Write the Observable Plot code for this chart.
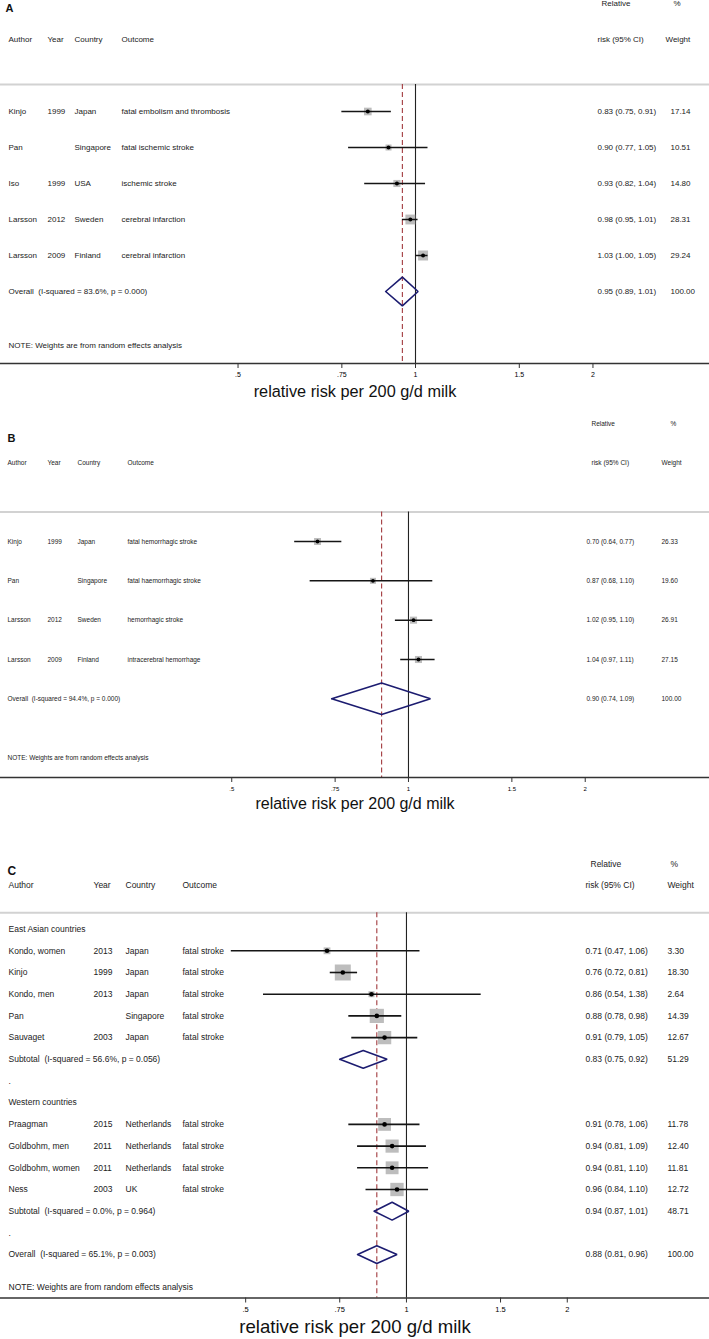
<!DOCTYPE html>
<html>
<head>
<meta charset="utf-8">
<script src="https://cdn.jsdelivr.net/npm/d3@7"></script>
<script src="https://cdn.jsdelivr.net/npm/@observablehq/plot@0.6"></script>
<style>
  body { margin: 0; background: #fff; width: 709px; }
  svg { display: block; white-space: pre; }
</style>
</head>
<body>
<div id="chart"></div>
<script>
// ---------- shared ----------
const tickValues = [0.5, 0.75, 1, 1.5, 2];
const tickLabels = [".5", ".75", "1", "1.5", "2"];
const headerTop = ["Relative", "%"];
const headerCols = ["Author", "Year", "Country", "Outcome", "risk (95% CI)", "Weight"];
const axisTitle = "relative risk per 200 g/d milk";
const noteText = "NOTE: Weights are from random effects analysis";

// ---------- panel A ----------
const A_author  = ["Kinjo", "Pan", "Iso", "Larsson", "Larsson"];
const A_year    = ["1999", "", "1999", "2012", "2009"];
const A_country = ["Japan", "Singapore", "USA", "Sweden", "Finland"];
const A_outcome = ["fatal embolism and thrombosis", "fatal ischemic stroke", "ischemic stroke", "cerebral infarction", "cerebral infarction"];
const A_rr = [0.83, 0.90, 0.93, 0.98, 1.03];
const A_lo = [0.75, 0.77, 0.82, 0.95, 1.00];
const A_hi = [0.91, 1.05, 1.04, 1.01, 1.05];
const A_w  = [17.14, 10.51, 14.80, 28.31, 29.24];
const A_sumLabel = ["Overall  (I-squared = 83.6%, p = 0.000)"];
const A_sumRR = [0.95], A_sumLo = [0.89], A_sumHi = [1.01], A_sumW = [100.00];

// ---------- panel B ----------
const B_author  = ["Kinjo", "Pan", "Larsson", "Larsson"];
const B_year    = ["1999", "", "2012", "2009"];
const B_country = ["Japan", "Singapore", "Sweden", "Finland"];
const B_outcome = ["fatal hemorrhagic stroke", "fatal haemorrhagic stroke", "hemorrhagic stroke", "intracerebral hemorrhage"];
const B_rr = [0.70, 0.87, 1.02, 1.04];
const B_lo = [0.64, 0.68, 0.95, 0.97];
const B_hi = [0.77, 1.10, 1.10, 1.11];
const B_w  = [26.33, 19.60, 26.91, 27.15];
const B_sumLabel = ["Overall  (I-squared = 94.4%, p = 0.000)"];
const B_sumRR = [0.90], B_sumLo = [0.74], B_sumHi = [1.09], B_sumW = [100.00];

// ---------- panel C ----------
const C_groups  = ["East Asian countries", "Western countries"];
const C_group   = [0, 0, 0, 0, 0, 1, 1, 1, 1];
const C_author  = ["Kondo, women", "Kinjo", "Kondo, men", "Pan", "Sauvaget", "Praagman", "Goldbohm, men", "Goldbohm, women", "Ness"];
const C_year    = ["2013", "1999", "2013", "", "2003", "2015", "2011", "2011", "2003"];
const C_country = ["Japan", "Japan", "Japan", "Singapore", "Japan", "Netherlands", "Netherlands", "Netherlands", "UK"];
const C_outcome = ["fatal stroke", "fatal stroke", "fatal stroke", "fatal stroke", "fatal stroke", "fatal stroke", "fatal stroke", "fatal stroke", "fatal stroke"];
const C_rr = [0.71, 0.76, 0.86, 0.88, 0.91, 0.91, 0.94, 0.94, 0.96];
const C_lo = [0.47, 0.72, 0.54, 0.78, 0.79, 0.78, 0.81, 0.81, 0.84];
const C_hi = [1.06, 0.81, 1.38, 0.98, 1.05, 1.06, 1.09, 1.10, 1.10];
const C_w  = [3.30, 18.30, 2.64, 14.39, 12.67, 11.78, 12.40, 11.81, 12.72];
const C_sumLabel = ["Subtotal  (I-squared = 56.6%, p = 0.056)", "Subtotal  (I-squared = 0.0%, p = 0.964)", "Overall  (I-squared = 65.1%, p = 0.003)"];
const C_sumRR = [0.83, 0.94, 0.88];
const C_sumLo = [0.75, 0.87, 0.81];
const C_sumHi = [0.92, 1.01, 0.96];
const C_sumW  = [51.29, 48.71, 100.00];

// ---------- build row lists ----------
function study(author, year, country, outcome, rr, lo, hi, w) {
  return {type: "study", author, year, country, outcome, rr, lo, hi, w};
}
function summary(label, rr, lo, hi, w) {
  return {type: "summary", author: label, rr, lo, hi, w};
}
function label(text) { return {type: "label", author: text}; }
function slotRows(list, start) {
  list.forEach((d, i) => d.slot = start + i);
  return list;
}

const rowsA = slotRows([
  ...A_author.map((a, i) => study(a, A_year[i], A_country[i], A_outcome[i], A_rr[i], A_lo[i], A_hi[i], A_w[i])),
  ...A_sumLabel.map((l, i) => summary(l, A_sumRR[i], A_sumLo[i], A_sumHi[i], A_sumW[i]))
], 3);
const rowsB = slotRows([
  ...B_author.map((a, i) => study(a, B_year[i], B_country[i], B_outcome[i], B_rr[i], B_lo[i], B_hi[i], B_w[i])),
  ...B_sumLabel.map((l, i) => summary(l, B_sumRR[i], B_sumLo[i], B_sumHi[i], B_sumW[i]))
], 3);
const rowsCList = [];
C_groups.forEach((g, gi) => {
  rowsCList.push(label(g));
  C_author.forEach((a, i) => {
    if (C_group[i] === gi) rowsCList.push(study(a, C_year[i], C_country[i], C_outcome[i], C_rr[i], C_lo[i], C_hi[i], C_w[i]));
  });
  rowsCList.push(summary(C_sumLabel[gi], C_sumRR[gi], C_sumLo[gi], C_sumHi[gi], C_sumW[gi]));
  rowsCList.push(label("."));
});
rowsCList.push(summary(C_sumLabel[2], C_sumRR[2], C_sumLo[2], C_sumHi[2], C_sumW[2]));
const rowsC = slotRows(rowsCList, 3);

const FONT = "'Liberation Sans', Arial, Helvetica, sans-serif";

function panel(cfg) {
  const {rows, height, marginTop, marginBottom, domain, fs, cols, k, dh, tickFs, titleFs, titleDy, letter, letterFs, letterDx, letterDy, ciW, ptR} = cfg;
  const N = rows[rows.length - 1].slot + 2;
  const noteSlot = N - 0.5;
  const sep = 2.25;
  const overall = rows[rows.length - 1];
  const studies = rows.filter(d => d.type === "study");
  const sums = rows.filter(d => d.type === "summary");
  const withVals = rows.filter(d => d.type !== "label");
  const diamonds = sums.flatMap((d, j) => [
    {x: d.lo, y: d.slot, id: j}, {x: d.rr, y: d.slot - dh, id: j},
    {x: d.hi, y: d.slot, id: j}, {x: d.rr, y: d.slot + dh, id: j},
    {x: d.lo, y: d.slot, id: j}
  ]);
  const txt = (data, opts) => Plot.text(data, {frameAnchor: "left", textAnchor: "start", lineAnchor: "middle", fontSize: fs, fill: "#222", ...opts});
  const headerData = headerCols.map((h, i) => ({h, i}));
  const colKeys = ["author", "year", "country", "outcome", "riskH", "wH"];
  return Plot.plot({
    width: 709, height, marginLeft: 0, marginRight: 0, marginTop, marginBottom,
    style: {fontFamily: FONT, background: "#fff", overflow: "visible"},
    x: {type: "log", domain},
    y: {domain: [0, N], reverse: true, axis: null},
    r: {type: "sqrt", domain: [0, 1], range: [0, k / Math.sqrt(Math.PI)], clamp: false},
    marks: [
      Plot.ruleY([sep], {stroke: "#d2d2d2", strokeWidth: 2}),
      Plot.ruleX([1], {y1: sep, y2: N, stroke: "#222", strokeWidth: 1.1}),
      Plot.ruleX([overall.rr], {y1: sep, y2: N, stroke: "#a23a3e", strokeWidth: 1.1, strokeDasharray: "5,3"}),
      Plot.dot(studies, {x: "rr", y: "slot", symbol: "square", r: "w", fill: "#bdbdbd", stroke: null}),
      Plot.ruleY(studies, {x1: "lo", x2: "hi", y: "slot", stroke: "#151515", strokeWidth: ciW}),
      Plot.dot(studies, {x: "rr", y: "slot", r: ptR, fill: "#000", stroke: null}),
      Plot.line(diamonds, {x: "x", y: "y", z: "id", stroke: "#1c1c70", strokeWidth: 1.6, strokeLinejoin: "miter"}),
      Plot.ruleY([N], {stroke: "#333", strokeWidth: 1.5}),
      Plot.axisX({ticks: tickValues, tickFormat: d => tickLabels[tickValues.indexOf(d)], tickSize: 5, tickPadding: 4, fontSize: tickFs, label: null, stroke: "#333"}),
      // headers
      txt([headerTop[0]], {y: () => 0, dx: cols.relH}),
      txt([headerTop[1]], {y: () => 0, dx: cols.pctH}),
      ...headerData.map(({h, i}) => txt([h], {y: () => 1, dx: cols[colKeys[i]]})),
      // study and label columns
      txt(rows, {y: "slot", text: "author", dx: cols.author}),
      txt(studies, {y: "slot", text: "year", dx: cols.year}),
      txt(studies, {y: "slot", text: "country", dx: cols.country}),
      txt(studies, {y: "slot", text: "outcome", dx: cols.outcome}),
      txt(withVals, {y: "slot", text: d => `${d.rr.toFixed(2)} (${d.lo.toFixed(2)}, ${d.hi.toFixed(2)})`, dx: cols.ci}),
      txt(withVals, {y: "slot", text: d => d.w.toFixed(2), dx: cols.w}),
      txt([noteText], {y: () => noteSlot, dx: cols.author}),
      // letter & axis title
      Plot.text([letter], {frameAnchor: "top-left", textAnchor: "start", lineAnchor: "middle", dx: letterDx, dy: letterDy, fontSize: letterFs, fontWeight: "bold", fill: "#111"}),
      Plot.text([axisTitle], {frameAnchor: "bottom", lineAnchor: "middle", dy: titleDy, fontSize: titleFs, fill: "#111"})
    ]
  });
}

const root = document.getElementById("chart");
root.append(panel({
  rows: rowsA, height: 405, marginTop: 3, marginBottom: 42, domain: [0.1977, 3.153],
  fs: 8, k: 1.85, dh: 0.4, ciW: 1.5, ptR: 2, tickFs: 7, titleFs: 16.3, titleDy: 28,
  cols: {author: 8, year: 47, country: 74, outcome: 121, ci: 597, w: 670, relH: 601, pctH: 673, riskH: 597, wH: 665},
  letter: "A", letterFs: 11, letterDx: 5, letterDy: 5
}));
root.append(panel({
  rows: rowsB, height: 435, marginTop: 18, marginBottom: 63, domain: [0.2019, 3.256],
  fs: 6.5, k: 1.36, dh: 0.4, ciW: 1.5, ptR: 1.9, tickFs: 6, titleFs: 16, titleDy: 26,
  cols: {author: 7, year: 47, country: 77, outcome: 127, ci: 586, w: 661, relH: 591, pctH: 670, riskH: 591, wH: 661},
  letter: "B", letterFs: 11, letterDx: 7, letterDy: 15
}));
root.append(panel({
  rows: rowsC, height: 499, marginTop: 23.5, marginBottom: 41.5, domain: [0.1738, 3.692],
  fs: 8.5, k: 3.74, dh: 0.41, ciW: 1.6, ptR: 2.3, tickFs: 7.5, titleFs: 18.6, titleDy: 29,
  cols: {author: 8, year: 93, country: 125, outcome: 182, ci: 585, w: 667, relH: 590, pctH: 670, riskH: 585, wH: 667},
  letter: "C", letterFs: 12, letterDx: 7, letterDy: 7.5
}));
</script>
</body>
</html>
